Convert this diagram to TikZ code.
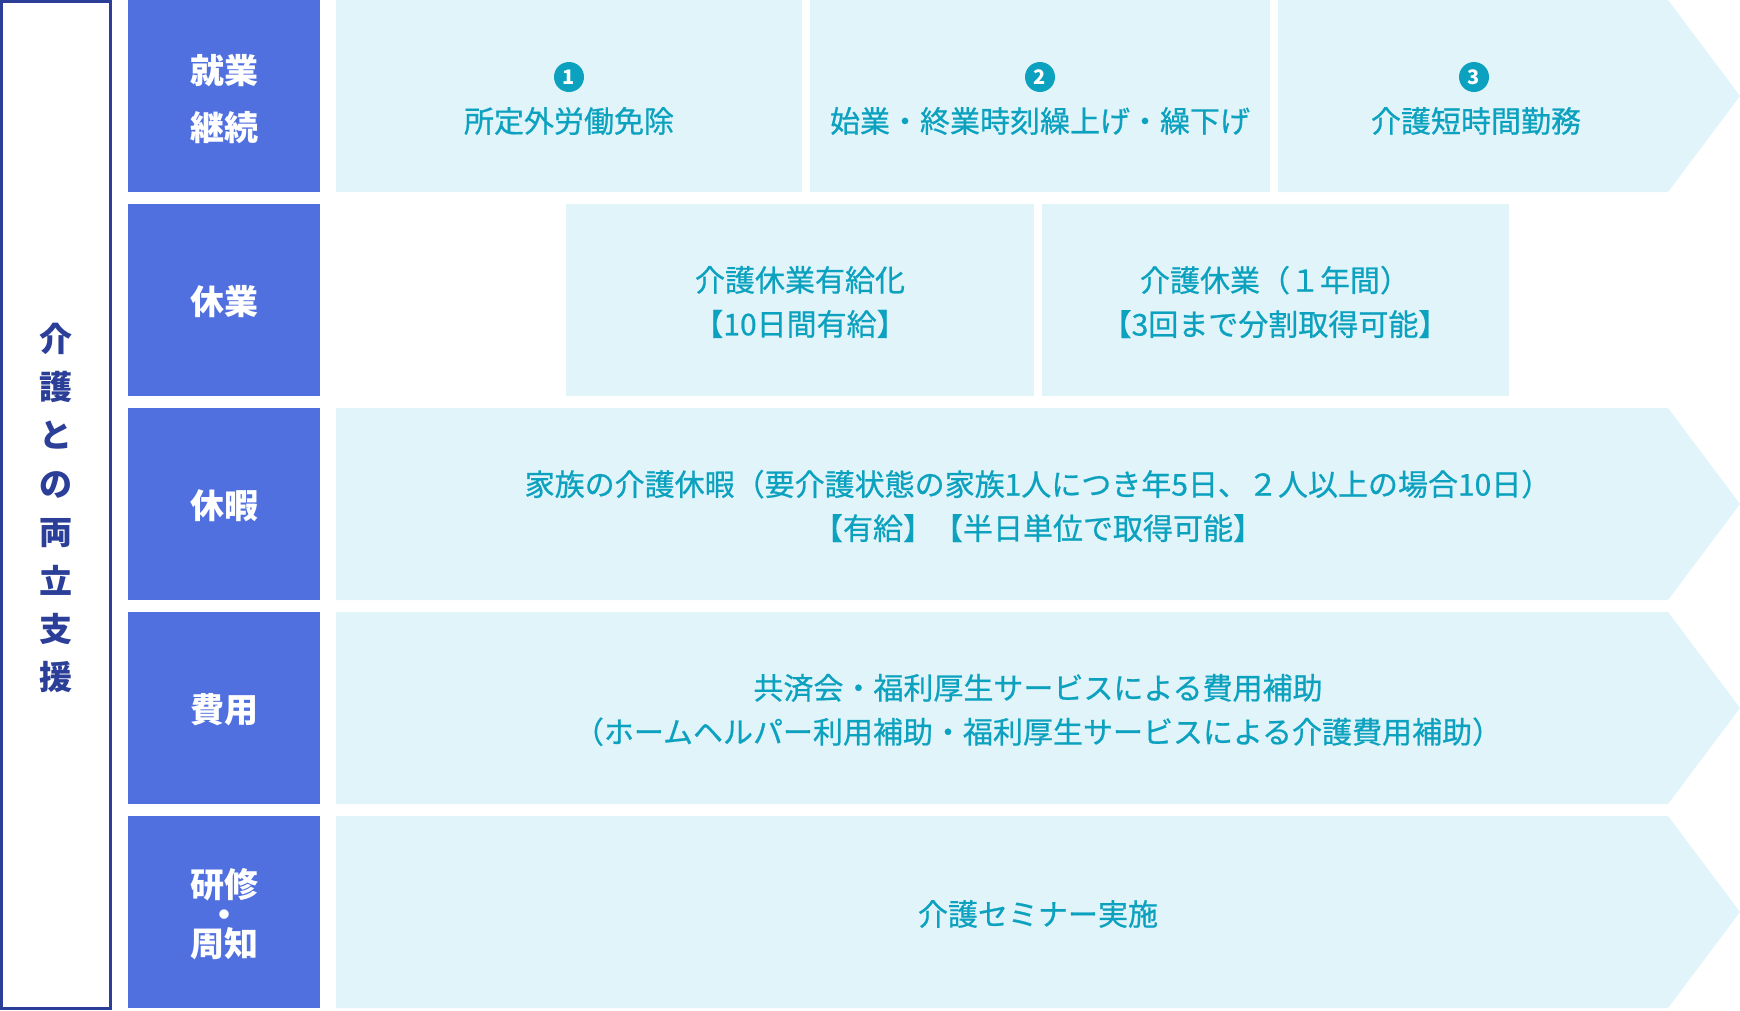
\documentclass[tikz,border=0pt]{standalone}
\usepackage{fontspec}
\setmainfont{Noto Sans CJK JP}
\newfontfamily\medfont{Noto Sans CJK JP}[FakeBold=0.7]
\definecolor{labelblue}{HTML}{5170E0}
\definecolor{framblue}{HTML}{2C3F98}
\definecolor{tealtxt}{HTML}{0CA2BF}
\definecolor{lightfill}{HTML}{E1F4FA}
\tikzset{
  labeltxt/.style={text=white, font=\bfseries\fontsize{34}{57}\selectfont, align=center, inner sep=0pt},
  itemtxt/.style={text=tealtxt, font=\medfont\fontsize{30}{44}\selectfont, align=center, inner sep=0pt},
  numcirc/.style={circle, fill=tealtxt, text=white, minimum size=30pt, inner sep=0pt, font=\bfseries\fontsize{20}{20}\selectfont},
}
\begin{document}
\begin{tikzpicture}[x=1pt,y=-1pt]
\useasboundingbox (0,0) rectangle (1740,1010);
% left frame
\draw[framblue, line width=3pt] (1.5,1.5) rectangle (110.5,1008.5);
\node[text=framblue, font=\bfseries\fontsize{33}{48.4}\selectfont, align=center, inner sep=0pt] (title) at (56,508) {介\\護\\と\\の\\両\\立\\支\\援};
% label column
\foreach \i in {0,...,4}{
  \fill[labelblue] (128,{\i*204}) rectangle (320,{\i*204+192});
}
\node[labeltxt] (l1) at (224,99) {就業\\継続};
\node[labeltxt] (l2) at (224,302) {休業};
\node[labeltxt] (l3) at (224,506) {休暇};
\node[labeltxt] (l4) at (224,710) {費用};
\node[labeltxt] (l5a) at (224,885) {研修};
\node[labeltxt] (l5b) at (224,914) {\smash{\raisebox{-13pt}{・}}};
\node[labeltxt] (l5c) at (224,944) {周知};
% row 1
\fill[lightfill] (336,0) rectangle (802,192);
\fill[lightfill] (810,0) rectangle (1270,192);
\fill[lightfill] (1278,0) -- (1668,0) -- (1740,96) -- (1668,192) -- (1278,192) -- cycle;
\node[numcirc] (n1) at (569,77) {1};
\node[numcirc] (n2) at (1040,77) {2};
\node[numcirc] (n3) at (1474,77) {3};
\node[itemtxt] (t1) at (569,121) {所定外労働免除};
\node[itemtxt] (t2) at (1040,121) {始業・終業時刻繰上げ・繰下げ};
\node[itemtxt] (t3) at (1476,121) {介護短時間勤務};
% row 2
\fill[lightfill] (566,204) rectangle (1034,396);
\fill[lightfill] (1042,204) rectangle (1509,396);
\node[itemtxt] (t4) at (800,302) {介護休業有給化\\【10日間有給】};
\node[itemtxt] (t5) at (1275,302) {介護休業（１年間）\\【3回まで分割取得可能】};
% rows 3-5
\foreach \i in {2,3,4}{
  \fill[lightfill] (336,{\i*204}) -- (1668,{\i*204}) -- (1740,{\i*204+96}) -- (1668,{\i*204+192}) -- (336,{\i*204+192}) -- cycle;
}
\node[itemtxt] (t6) at (1038,506) {家族の介護休暇（要介護状態の家族1人につき年5日、２人以上の場合10日）\\【有給】【半日単位で取得可能】};
\node[itemtxt] (t7) at (1038,710) {共済会・福利厚生サービスによる費用補助\\（ホームヘルパー利用補助・福利厚生サービスによる介護費用補助）};
\node[itemtxt] (t8) at (1038,914) {介護セミナー実施};
\end{tikzpicture}
\end{document}
